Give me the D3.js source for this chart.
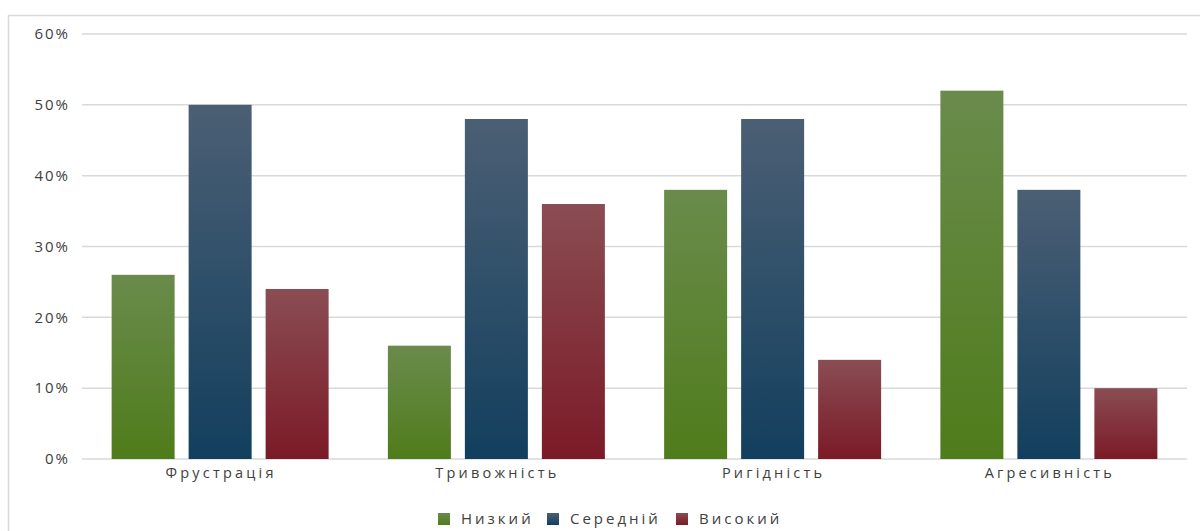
<!DOCTYPE html>
<html><head><meta charset="utf-8">
<script src="https://cdn.jsdelivr.net/npm/d3@7"></script>
<style>body{margin:0;background:#fff;} svg{display:block;} text{font-family:"Open Sans","DejaVu Sans",sans-serif;fill:#404040;}</style>
</head><body>
<svg id="c" width="1200" height="531"></svg>
<script>
const categories = ["Фрустрація","Тривожність","Ригідність","Агресивність"];
const seriesNames = ["Низкий","Середній","Високий"];
const low = [26,16,38,52];
const mid = [50,48,48,38];
const high = [24,36,14,10];
const yTicks = [0,10,20,30,40,50,60];
const colors = [["#6a8b4c","#4f7c1b"],["#4b5f74","#123f5e"],["#8a4d53","#7b1a27"]];

(function(){
const seriesVals = [low, mid, high];
const svg = d3.select("#c");
const mLeft = 82, mRight = 1187, mTop = 34, mBottom = 459;

const defs = svg.append("defs");
colors.forEach((c,i)=>{
  const g = defs.append("linearGradient").attr("id","g"+i).attr("x1",0).attr("y1",0).attr("x2",0).attr("y2",1);
  g.append("stop").attr("offset","0%").attr("stop-color",c[0]);
  g.append("stop").attr("offset","100%").attr("stop-color",c[1]);
});

svg.append("rect").attr("x",8.5).attr("y",15.5).attr("width",1300).attr("height",600)
  .attr("fill","none").attr("stroke","#d9d9d9").attr("stroke-width",1.5);

const y = d3.scaleLinear().domain([0,60]).range([mBottom, mTop]);
const p = 0.2145;
const x0 = d3.scaleBand().domain(categories).range([mLeft,mRight]).paddingInner(p).paddingOuter(p/2);
const x1 = d3.scaleBand().domain(seriesNames).range([0,x0.bandwidth()]).paddingInner(14/77).paddingOuter(0);

svg.append("g").selectAll("line").data(yTicks).join("line")
  .attr("x1",mLeft).attr("x2",mRight).attr("y1",d=>y(d)).attr("y2",d=>y(d))
  .attr("stroke","#d9d9d9").attr("stroke-width",1.5);

svg.append("g").selectAll("text").data(yTicks).join("text")
  .attr("x",70).attr("y",d=>y(d)).attr("dy","0.35em").attr("text-anchor","end")
  .attr("font-size",15).attr("letter-spacing",2).text(d=>d+"%");

const groups = svg.append("g").selectAll("g").data(categories).join("g")
  .attr("transform",d=>`translate(${x0(d)},0)`);
groups.selectAll("rect").data((d,ci)=>seriesNames.map((s,si)=>({s,si,v:seriesVals[si][ci]}))).join("rect")
  .attr("x",d=>x1(d.s)).attr("width",x1.bandwidth())
  .attr("y",d=>y(d.v)).attr("height",d=>y(0)-y(d.v))
  .attr("fill",d=>`url(#g${d.si})`);

svg.append("g").selectAll("text").data(categories).join("text")
  .attr("x",d=>x0(d)+x0.bandwidth()/2+1).attr("y",478).attr("text-anchor","middle")
  .attr("font-size",14.5).attr("letter-spacing",3.2).text(d=>d);

const legX = [438,547,676];
const leg = svg.append("g").selectAll("g").data(seriesNames).join("g")
  .attr("transform",(d,i)=>`translate(${legX[i]},513)`);
leg.append("rect").attr("width",12).attr("height",12).attr("fill",(d,i)=>`url(#g${i})`);
leg.append("text").attr("x",23).attr("y",6).attr("dy","0.35em").attr("font-size",15).attr("letter-spacing",3).text(d=>d);
})();
</script>
</body></html>
